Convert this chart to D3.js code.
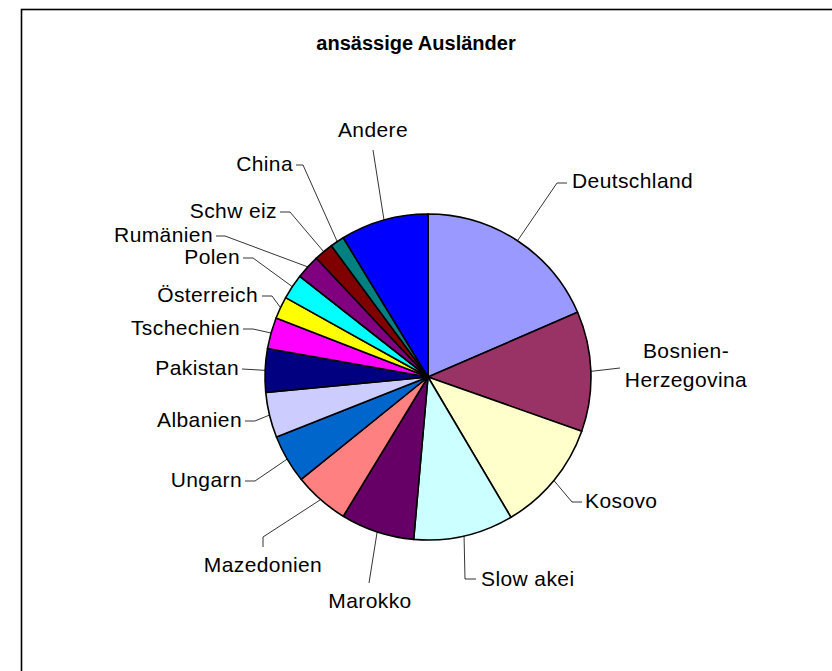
<!DOCTYPE html>
<html>
<head>
<meta charset="utf-8">
<script src="https://cdn.jsdelivr.net/npm/d3@7"></script>
<style>
  body { margin: 0; background: #fff; overflow: hidden; }
  svg { display: block; }
  text { font-family: "Liberation Sans", Arial, sans-serif; }
</style>
</head>
<body>
<div id="chart"></div>
<script>
// Anteile in Prozent (aus dem Bild geschaetzt)
var countries = ['Deutschland', 'Bosnien-Herzegovina', 'Kosovo', 'Slowakei', 'Marokko',
  'Mazedonien', 'Ungarn', 'Albanien', 'Pakistan', 'Tschechien', 'Österreich',
  'Polen', 'Rumänien', 'Schweiz', 'China', 'Andere'];
var shares = [18.5, 11.9, 11.1, 9.9, 7.3, 5.5, 4.8, 4.5, 4.3, 3.1, 2.2, 2.5, 2.4, 1.9, 1.4, 8.7];
var sliceColors = ['#9999FF', '#993366', '#FFFFCC', '#CCFFFF', '#660066', '#FF8080',
  '#0066CC', '#CCCCFF', '#000080', '#FF00FF', '#FFFF00', '#00FFFF', '#800080',
  '#800000', '#008080', '#0000FF'];
// label text as drawn in the chart (Excel spacing artefacts kept)
var labelText = [['Deutschland'], ['Bosnien-', 'Herzegovina'], ['Kosovo'], ['Slow akei'],
  ['Marokko'], ['Mazedonien'], ['Ungarn'], ['Albanien'], ['Pakistan'], ['Tschechien'],
  ['Österreich'], ['Polen'], ['Rumänien'], ['Schw eiz'], ['China'], ['Andere']];

var width = 832,
    height = 671,
    cx = 428, cy = 377,
    radius = 163;

// label placement: text anchor point, anchor side, and leader elbow points
var labelPos = [
  {x: 572, y: 182, anchor: 'start', path: [[557, 183], [567, 183]]},
  {x: 686, y: 352, anchor: 'middle', lineGap: 29, path: [[620, 368]]},
  {x: 585, y: 502, anchor: 'start', path: [[572, 502], [582, 502]]},
  {x: 481, y: 580, anchor: 'start', path: [[465, 579], [476, 579]]},
  {x: 370, y: 602, anchor: 'middle', path: [[369, 583]]},
  {x: 263, y: 566, anchor: 'middle', path: [[263, 537], [263, 547]]},
  {x: 242, y: 481, anchor: 'end', path: [[255, 481], [245, 481]]},
  {x: 242, y: 421, anchor: 'end', path: [[255, 421], [245, 421]]},
  {x: 239, y: 369, anchor: 'end', path: [[242, 369]]},
  {x: 240, y: 329, anchor: 'end', path: [[253, 329], [243, 329]]},
  {x: 258, y: 296, anchor: 'end', path: [[272, 296], [262, 296]]},
  {x: 240, y: 258, anchor: 'end', path: [[253, 258], [243, 258]]},
  {x: 213, y: 236, anchor: 'end', path: [[225, 236], [216, 236]]},
  {x: 277, y: 212, anchor: 'end', path: [[290, 212], [280, 212]]},
  {x: 293, y: 165, anchor: 'end', path: [[303, 165], [296, 165]]},
  {x: 373, y: 131, anchor: 'middle', path: [[373, 150]]}
];

var svg = d3.select('#chart').append('svg')
    .attr('width', width)
    .attr('height', height);

// chart frame (only top/left visible in the window)
svg.append('rect')
    .attr('x', 21.5)
    .attr('y', 9.5)
    .attr('width', 900)
    .attr('height', 900)
    .attr('fill', 'none')
    .attr('stroke', '#000')
    .attr('stroke-width', 1.6);

svg.append('text')
    .attr('x', 416)
    .attr('y', 45)
    .attr('text-anchor', 'middle')
    .attr('dominant-baseline', 'middle')
    .style('font-size', '20px')
    .style('font-weight', 'bold')
    .text('ansässige Ausländer');

var pie = d3.pie()
    .sort(null)
    .value(function(d) { return d; });

var arc = d3.arc()
    .innerRadius(0)
    .outerRadius(radius);

var arcs = pie(shares);

var g = svg.append('g')
    .attr('transform', 'translate(' + cx + ',' + cy + ')');

g.selectAll('path.slice')
  .data(arcs)
  .enter().append('path')
    .attr('class', 'slice')
    .attr('d', arc)
    .style('fill', function(d, i) { return sliceColors[i]; })
    .style('stroke', '#000')
    .style('stroke-width', 1.6)
    .style('stroke-linejoin', 'round');

// leader lines from the rim at mid angle to the label
var line = d3.line();
svg.selectAll('path.leader')
  .data(arcs)
  .enter().append('path')
    .attr('class', 'leader')
    .attr('d', function(d, i) {
      var a = (d.startAngle + d.endAngle) / 2;
      var start = [cx + radius * Math.sin(a), cy - radius * Math.cos(a)];
      return line([start].concat(labelPos[i].path));
    })
    .attr('fill', 'none')
    .attr('stroke', '#000')
    .attr('stroke-width', 0.8);

var labels = svg.selectAll('text.label')
  .data(arcs)
  .enter().append('text')
    .attr('class', 'label')
    .attr('x', function(d, i) { return labelPos[i].x; })
    .attr('y', function(d, i) { return labelPos[i].y; })
    .attr('text-anchor', function(d, i) { return labelPos[i].anchor; })
    .attr('dominant-baseline', 'middle')
    .style('font-size', '21px')
    .style('letter-spacing', '0.4px')
    .style('fill', '#000');

labels.each(function(d, i) {
  var t = d3.select(this);
  labelText[i].forEach(function(s, k) {
    t.append('tspan')
      .attr('x', labelPos[i].x)
      .attr('dy', k === 0 ? 0 : labelPos[i].lineGap)
      .text(s);
  });
});
</script>
</body>
</html>
